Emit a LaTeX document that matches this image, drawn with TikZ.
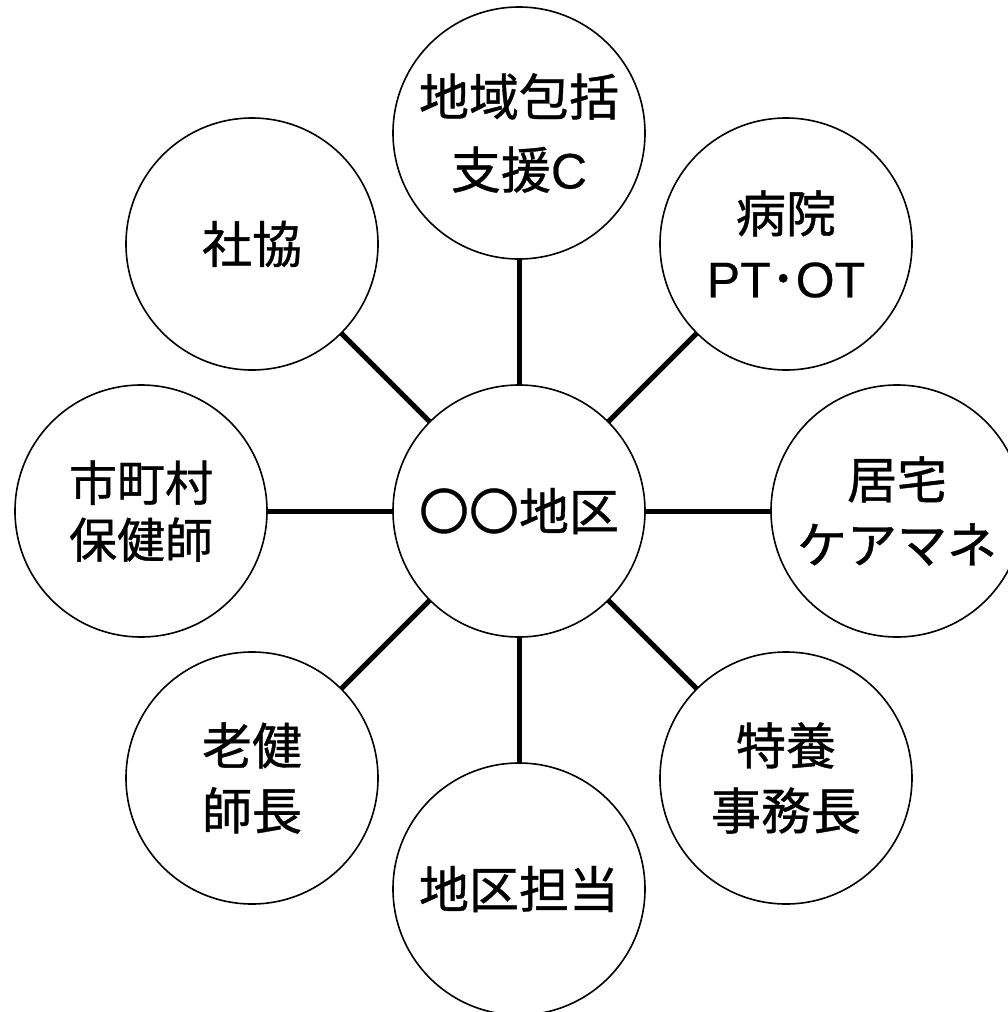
\documentclass[tikz,border=0pt]{standalone}
\usepackage{fontspec}
\setmainfont{Noto Sans CJK JP}[FakeBold=0.8]
\newfontfamily\latn{Liberation Sans}[FakeBold=0.4]
\tikzset{
  bubble/.style={circle, draw=black, line width=1.6pt, fill=white, minimum size=252pt, inner sep=0pt, outer sep=0pt, align=center, font=\fontsize{50}{65}\selectfont},
  link/.style={line width=5pt, black},
}
\begin{document}
\begin{tikzpicture}[x=1pt, y=-1pt]
\useasboundingbox (0,0) rectangle (1008,1012);
\node[bubble] (C) at (519,511) {〇〇地区};
\node[bubble] (T) at (519,133) {地域包括\\[8pt]支援{\latn C}};
\node[bubble] (TL) at (252,244) {社協};
\node[bubble] (TR) at (786,244) {病院\\{\latn PT}･{\latn OT}};
\node[bubble, font=\fontsize{48}{57}\selectfont] (L) at (141,511) {市町村\\保健師};
\node[bubble] (R) at (897,511) {居宅\\ケアマネ};
\node[bubble] (BL) at (252,778) {老健\\師長};
\node[bubble] (B) at (519,889) {地区担当};
\node[bubble] (BR) at (786,778) {特養\\事務長};
\foreach \n in {T,TL,TR,L,R,BL,B,BR}
  \draw[link] (C) -- (\n);
\end{tikzpicture}
\end{document}
